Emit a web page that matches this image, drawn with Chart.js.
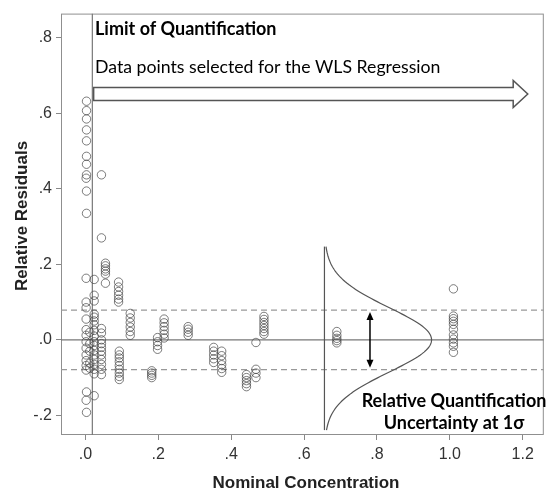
<!DOCTYPE html>
<html><head><meta charset="utf-8">
<script src="https://cdn.jsdelivr.net/npm/chart.js@4.4.0/dist/chart.umd.min.js"></script>
<style>html,body{margin:0;padding:0;background:#fff}#wrap{width:549px;height:490px}</style>
</head><body><div id="wrap"><canvas id="c" width="549" height="490"></canvas></div>
<script>
// Nominal concentration of each group of replicates
const concentrations = [0.003, 0.002, 0.012, 0.024, 0.044, 0.055, 0.091, 0.093, 0.123, 0.182, 0.198, 0.216, 0.282, 0.352, 0.374, 0.442, 0.468, 0.490, 0.690, 1.010];
// Relative residuals of each group
const residuals = [
  [0.632, 0.607, 0.585, 0.556, 0.527, 0.486, 0.465, 0.437, 0.394, 0.335, -0.138, -0.192],
  [0.428, 0.163, 0.100, 0.085, 0.055, 0.027, 0.012, -0.005, -0.022, -0.040, -0.055, -0.068, -0.080, -0.160],
  [0.020, -0.010, -0.030, -0.062, -0.075],
  [0.160, 0.118, 0.103, 0.068, 0.060, 0.050, 0.040, 0.025, 0.010, -0.005, -0.015, -0.028, -0.040, -0.052, -0.065, -0.078, -0.090, -0.148],
  [0.437, 0.270, 0.030, 0.018, 0.000, -0.010, -0.020, -0.030, -0.040, -0.052, -0.065, -0.078, -0.092],
  [0.203, 0.196, 0.188, 0.182, 0.174, 0.150],
  [0.153, 0.140, 0.128, 0.118, 0.108, 0.100],
  [-0.030, -0.040, -0.048, -0.058, -0.068, -0.078, -0.088, -0.097, -0.105],
  [0.070, 0.058, 0.046, 0.034, 0.022, 0.012],
  [-0.082, -0.088, -0.094, -0.100],
  [0.006, -0.005, -0.015, -0.025],
  [0.055, 0.045, 0.035, 0.025, 0.015, 0.005],
  [0.035, 0.028, 0.020, 0.012],
  [-0.020, -0.030, -0.040, -0.050, -0.060],
  [-0.030, -0.042, -0.055, -0.066, -0.076, -0.086],
  [-0.092, -0.100, -0.108, -0.116, -0.124],
  [-0.007, -0.078, -0.088, -0.100],
  [0.062, 0.054, 0.046, 0.038, 0.030, 0.022, 0.015],
  [0.022, 0.012, 0.004, -0.002, -0.008],
  [0.135, 0.063, 0.056, 0.049, 0.041, 0.028, 0.013, 0.002, -0.008, -0.017, -0.033]
];
const xTicks = [0, 0.2, 0.4, 0.6, 0.8, 1.0, 1.2];
const yTicks = [-0.2, 0, 0.2, 0.4, 0.6, 0.8];
const xRange = [-0.067, 1.258];
const yRange = [-0.252, 0.864];
const loq = 0.019;            // limit of quantification
const uncertainty = 0.0787;   // relative quantification uncertainty (1 sigma)
const bell = {base: 0.656, peak: 0.294, sigma: 0.085, top: 0.247, bottom: -0.239};
const wlsArrow = {x0: 0.0226, headStart: 1.174, tip: 1.214, y: 0.651};
const sigmaArrowX = 0.781;

const points = [];
concentrations.forEach((c, i) => residuals[i].forEach(r => points.push({x: c, y: r})));

function fmt(v) {
  let s = Number(v).toFixed(1);
  return s.replace(/^(-?)0\./, '$1.');
}

const decor = {
  id: 'decor',
  beforeDatasetsDraw(chart) {
    const {ctx, chartArea: a} = chart;
    ctx.save();
    ctx.strokeStyle = '#8f8f8f';
    ctx.lineWidth = 1;
    ctx.strokeRect(a.left + 0.5, a.top + 0.5, a.right - a.left - 1, a.bottom - a.top - 1);
    ctx.restore();
  },
  afterDatasetsDraw(chart) {
    const {ctx, scales: {x, y}} = chart;
    ctx.save();
    // bell curve
    ctx.strokeStyle = '#555';
    ctx.lineWidth = 1.2;
    const bx = x.getPixelForValue(bell.base);
    ctx.beginPath();
    ctx.moveTo(bx, y.getPixelForValue(bell.top));
    ctx.lineTo(bx, y.getPixelForValue(bell.bottom));
    ctx.stroke();
    ctx.beginPath();
    const n = 120;
    for (let k = 0; k <= n; k++) {
      const yv = bell.top + (bell.bottom - bell.top) * k / n;
      const xv = bell.base + bell.peak * Math.exp(-0.5 * (yv / bell.sigma) ** 2);
      const px = x.getPixelForValue(xv), py = y.getPixelForValue(yv);
      if (k === 0) ctx.moveTo(px, py); else ctx.lineTo(px, py);
    }
    ctx.stroke();
    // sigma double arrow
    const ax = x.getPixelForValue(sigmaArrowX);
    const ay1 = y.getPixelForValue(uncertainty * 0.94), ay2 = y.getPixelForValue(-uncertainty * 0.94);
    ctx.strokeStyle = '#000'; ctx.fillStyle = '#000'; ctx.lineWidth = 1.5;
    ctx.beginPath(); ctx.moveTo(ax, ay1 + 5); ctx.lineTo(ax, ay2 - 5); ctx.stroke();
    ctx.beginPath(); ctx.moveTo(ax, ay1); ctx.lineTo(ax - 3.5, ay1 + 8); ctx.lineTo(ax + 3.5, ay1 + 8); ctx.closePath(); ctx.fill();
    ctx.beginPath(); ctx.moveTo(ax, ay2); ctx.lineTo(ax - 3.5, ay2 - 8); ctx.lineTo(ax + 3.5, ay2 - 8); ctx.closePath(); ctx.fill();
    // WLS hollow arrow
    const yc = y.getPixelForValue(wlsArrow.y);
    const x0 = x.getPixelForValue(wlsArrow.x0), xh = x.getPixelForValue(wlsArrow.headStart), xt = x.getPixelForValue(wlsArrow.tip);
    ctx.beginPath();
    ctx.moveTo(x0, yc - 6.5); ctx.lineTo(xh, yc - 6.5); ctx.lineTo(xh, yc - 13.5);
    ctx.lineTo(xt, yc); ctx.lineTo(xh, yc + 13.5); ctx.lineTo(xh, yc + 6.5); ctx.lineTo(x0, yc + 6.5);
    ctx.closePath();
    ctx.fillStyle = '#fff'; ctx.fill();
    ctx.strokeStyle = '#555'; ctx.lineWidth = 1.5; ctx.stroke();
    // texts
    ctx.fillStyle = '#000';
    ctx.textBaseline = 'alphabetic';
    ctx.textAlign = 'left';
    ctx.font = 'bold 18px Lato';
    ctx.fillText('Limit of Quantification', 95, 35);
    ctx.font = '17.7px Lato';
    ctx.fillText('Data points selected for the WLS Regression', 95, 73);
    ctx.font = 'bold 18px Lato';
    ctx.textAlign = 'center';
    ctx.fillText('Relative Quantification', 454, 407);
    ctx.fillText('Uncertainty at 1\u03c3', 454, 429);
    // axis titles
    ctx.fillStyle = '#222';
    ctx.font = 'bold 17px "Liberation Sans", Arial';
    ctx.fillText('Nominal Concentration', 306, 488);
    ctx.save();
    ctx.translate(27, 216);
    ctx.rotate(-Math.PI / 2);
    ctx.fillText('Relative Residuals', 0, 0);
    ctx.restore();
    ctx.restore();
  }
};

const lineStyle = {type: 'line', pointRadius: 0, fill: false, borderWidth: 1.2, order: 2};

new Chart(document.getElementById('c'), {
  type: 'scatter',
  data: {
    datasets: [
      {label: 'residuals', data: points, pointRadius: 4.2, pointHoverRadius: 4.2, pointBorderWidth: 1,
       pointBorderColor: 'rgba(70,70,70,0.7)', pointBackgroundColor: 'rgba(0,0,0,0)', order: 1},
      Object.assign({label: 'zero', data: [{x: xRange[0], y: 0}, {x: xRange[1], y: 0}], borderColor: '#777'}, lineStyle),
      Object.assign({label: 'loq', data: [{x: loq, y: yRange[0]}, {x: loq, y: yRange[1]}], borderColor: '#777'}, lineStyle),
      Object.assign({label: 'upper', data: [{x: xRange[0], y: uncertainty}, {x: xRange[1], y: uncertainty}], borderColor: '#999', borderDash: [6, 4]}, lineStyle),
      Object.assign({label: 'lower', data: [{x: xRange[0], y: -uncertainty}, {x: xRange[1], y: -uncertainty}], borderColor: '#999', borderDash: [6, 4]}, lineStyle)
    ]
  },
  options: {
    responsive: false,
    animation: false,
    events: [],
    layout: {padding: {top: 10, right: 1, left: 0, bottom: 0}},
    plugins: {legend: {display: false}, tooltip: {enabled: false}},
    scales: {
      x: {
        type: 'linear', min: xRange[0], max: xRange[1],
        afterFit(s) { s.height = 55; },
        afterBuildTicks(s) { s.ticks = xTicks.map(v => ({value: v})); },
        grid: {drawOnChartArea: false, drawTicks: true, tickLength: 5, color: '#888'},
        border: {display: false},
        ticks: {callback: fmt, color: '#333', font: {family: '"Liberation Sans", Arial', size: 16}, padding: 5, maxRotation: 0}
      },
      y: {
        type: 'linear', min: yRange[0], max: yRange[1],
        afterFit(s) { s.width = 61; },
        afterBuildTicks(s) { s.ticks = yTicks.map(v => ({value: v})); },
        grid: {drawOnChartArea: false, drawTicks: true, tickLength: 5, color: '#888'},
        border: {display: false},
        ticks: {callback: fmt, color: '#333', font: {family: '"Liberation Sans", Arial', size: 16}, padding: 4}
      }
    }
  },
  plugins: [decor]
});
</script></body></html>
